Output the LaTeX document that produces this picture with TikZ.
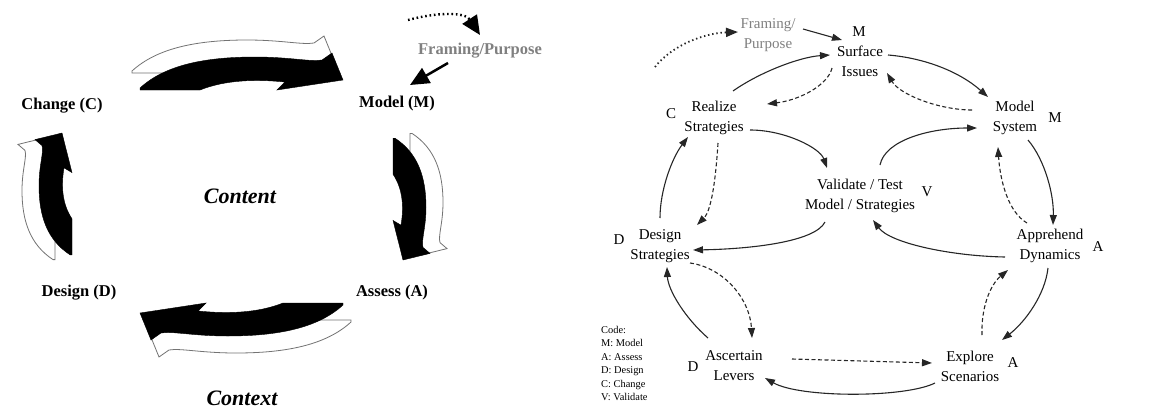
\documentclass[tikz,border=0pt]{standalone}
\usepackage{fontspec}
\setmainfont{Liberation Serif}
\usetikzlibrary{arrows.meta,calc}

\tikzset{
  lbl/.style={font=\fontsize{16.5}{20}\selectfont\bfseries, inner sep=1pt},
  theme/.style={font=\fontsize{22}{26}\selectfont\bfseries\itshape, inner sep=1pt},
  nd/.style={font=\fontsize{15}{20}\selectfont, align=center, inner sep=1pt},
  code/.style={font=\fontsize{15}{20}\selectfont, inner sep=1pt},
  legend/.style={font=\fontsize{10.4}{13.4}\selectfont, align=left, inner sep=0pt},
  conn/.style={line width=1.1pt, draw=black!85, -{Triangle[length=10pt,width=7pt]}},
  dconn/.style={conn, dash pattern=on 4pt off 2.5pt},
  dotconn/.style={line width=1.8pt, draw=black!85, dash pattern=on 1.4pt off 2.8pt,
    -{Triangle[length=12pt,width=9pt]}},
  bigconn/.style={line width=2.5pt, draw=black, -{Triangle[length=19pt,width=17pt]}},
  bigdot/.style={line width=2.4pt, draw=black, dash pattern=on 1.6pt off 2.8pt,
    -{Triangle[length=19pt,width=17pt]}},
  blackband/.style={fill=black, draw=black, line width=0.4pt},
  whiteband/.style={fill=white, draw=black!55, line width=0.8pt},
}

% outline of one curved band arrow, pointing along local +x;
% local +y (downwards on the page) is the inside of the cycle
\newcommand\bandoutline{%
  (-98,25) .. controls (-73,2) and (-33,-6) .. (17,-6)
  .. controls (52,-6) and (72,-1) .. (84,-3) -- (94,-10) -- (105,17)
  -- (39,27) -- (47,19) .. controls (17,16) and (-13,17) .. (-38,27)
  -- (-98,27) -- cycle}
% black band arrow with its white twin set behind it
\newcommand\bandpair{%
  \path[whiteband, shift={(-8,-17)}] \bandoutline;
  \path[blackband] \bandoutline;}

\begin{document}
\begin{tikzpicture}[x=1pt, y=-1pt]
\useasboundingbox (0,0) rectangle (1171,408);

% ---------- cycle of band arrows ----------
\begin{scope}[shift={(238,63)}] \bandpair \end{scope}
\begin{scope}[shift={(420,197)}, rotate=-90, xscale=0.6] \bandpair \end{scope}
\begin{scope}[shift={(245,330)}, rotate=180] \bandpair \end{scope}
\begin{scope}[shift={(45,196)}, rotate=90, xscale=0.6] \bandpair \end{scope}

\node[lbl] (chg) at (62,106) {Change (C)};
\node[lbl] (mdl) at (397,104) {Model (M)};
\node[lbl] (dsg) at (79,293) {Design (D)};
\node[lbl] (ass) at (392,293) {Assess (A)};
\node[theme] (cnt) at (240,196) {Content};
\node[theme, anchor=base] (ctx) at (242,405) {Context};
\node[lbl, text=black!50] (fp) at (480,51) {Framing/Purpose};

\coordinate (fpd) at (408,20);
\draw[bigdot] (fpd) .. controls +(30,-8) and +(-15,-23) .. ($(fp)+(0,-16)$);
\draw[bigconn] ($(fp)+(-32,12)$) -- ($(mdl)+(13,-19)$);

% ---------- process network ----------
\node[nd, text=black!50] (fram) at (768,35) {Framing/\\Purpose};
\node[nd] (surf) at (860,61) {Surface\\Issues};
\node[code] (cm1) at (859,32) {M};
\node[nd] (real) at (714,118) {Realize\\Strategies};
\node[code] (cc) at (671,114) {C};
\node[nd] (msys) at (1015,118) {Model\\System};
\node[code] (cm2) at (1055,118) {M};
\node[nd] (val) at (860,196) {Validate / Test\\Model / Strategies};
\node[code] (cv) at (927,192) {V};
\node[nd] (des) at (660,246) {Design\\Strategies};
\node[code] (cd1) at (619,240) {D};
\node[nd] (app) at (1050,246) {Apprehend\\Dynamics};
\node[code] (ca1) at (1098,247) {A};
\node[nd] (asc) at (734,366) {Ascertain\\Levers};
\node[code] (cd2) at (693,367) {D};
\node[nd] (exp) at (970,366) {Explore\\Scenarios};
\node[code] (ca2) at (1013,363) {A};
\node[legend, anchor=north west] (leg) at (601,326)
  {Code:\\M: Model\\A: Assess\\D: Design\\C: Change\\V: Validate};

\coordinate (dst) at (655,67);
\draw[dotconn] (dst) .. controls +(17,-22) and +(-33,1) .. ($(fram)+(-30,-3)$);
\draw[conn] ($(fram)+(35,-6)$) -- ($(surf)+(-18,-21)$);

\draw[conn]  ($(surf)+(28,-6)$)   .. controls +(37,3)   and +(-28,-25) .. ($(msys)+(-27,-21)$);
\draw[conn]  ($(real)+(19,-27)$)  .. controls +(27,-19) and +(-30,2)   .. ($(surf)+(-30,-6)$);
\draw[dconn] ($(surf)+(-28,7)$)   .. controls +(-4,17)  and +(33,-4)   .. ($(real)+(53,-14)$);
\draw[dconn] ($(msys)+(-43,-8)$)  .. controls +(-32,0)  and +(13,22)   .. ($(surf)+(27,12)$);
\draw[conn]  ($(real)+(36,12)$)   .. controls +(35,0)   and +(-7,-20)  .. ($(val)+(-33,-28)$);
\draw[conn]  ($(val)+(20,-31)$)   .. controls +(5,-25)  and +(-47,0)   .. ($(msys)+(-38,10)$);
\draw[dconn] ($(real)+(4,25)$)    .. controls +(-2,32)  and +(15,-15)  .. ($(des)+(37,-21)$);
\draw[conn]  ($(des)+(0,-28)$)    .. controls +(0,-28)  and +(-16,21)  .. ($(real)+(-26,19)$);
\draw[conn]  ($(msys)+(13,22)$)   .. controls +(17,20)  and +(1,-30)   .. ($(app)+(3,-21)$);
\draw[dconn] ($(app)+(-23,-23)$)  .. controls +(-19,-11) and +(2,33)   .. ($(msys)+(-17,29)$);
\draw[conn]  ($(val)+(-35,26)$)   .. controls +(-10,20) and +(57,-1)   .. ($(des)+(33,4)$);
\draw[conn]  ($(app)+(-45,11)$)   .. controls +(-55,-1) and +(17,23)   .. ($(val)+(13,24)$);
\draw[dconn] ($(des)+(30,17)$)    .. controls +(35,5)   and +(-2,-38)  .. ($(asc)+(18,-28)$);
\draw[conn]  ($(asc)+(-26,-28)$)  .. controls +(-23,-20) and +(1,23)   .. ($(des)+(7,21)$);
\draw[conn]  ($(app)+(-2,22)$)    .. controls +(-3,27)  and +(23,-18)  .. ($(exp)+(32,-26)$);
\draw[dconn] ($(exp)+(12,-31)$)   .. controls +(-1,-27) and +(-18,15)  .. ($(app)+(-42,24)$);
\draw[dconn] ($(asc)+(58,-7)$)    -- ($(exp)+(-38,-3)$);
\draw[conn]  ($(exp)+(-35,17)$)   .. controls +(-30,15) and +(35,20)   .. ($(asc)+(31,12)$);
\end{tikzpicture}
\end{document}
